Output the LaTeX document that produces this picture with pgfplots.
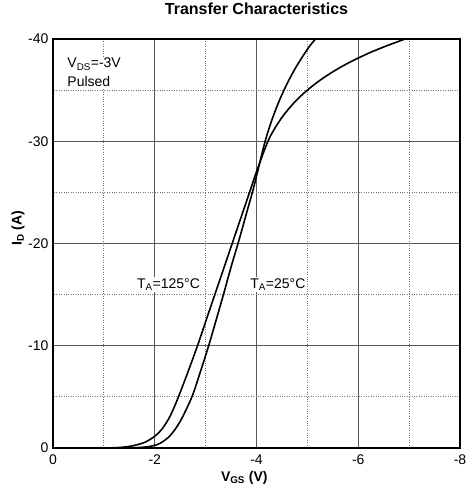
\documentclass[border=0pt]{standalone}
\usepackage{fontspec}
\setmainfont{Liberation Sans}
\usepackage{pgfplots}
\pgfplotsset{compat=1.18}

\begin{document}
\begin{tikzpicture}
\begin{axis}[
    name=ax,
    scale only axis,
    width=407pt, height=409pt,
    xmin=-8, xmax=0, ymin=-40, ymax=0,
    x dir=reverse, y dir=reverse,
    xtick={0,-2,-4,-6,-8},
    xticklabels={0,{-2},{-4},{-6},{-8}},
    ytick={0,-10,-20,-30,-40},
    yticklabels={0,{-10},{-20},{-30},{-40}},
    minor x tick num=1, minor y tick num=1,
    major tick length=0pt, minor tick length=0pt,
    grid=both,
    major grid style={black!65, line width=0.8pt},
    minor grid style={black!55, dotted, line width=0.8pt},
    axis line style={black, line width=1.2pt},
    tick label style={font=\fontsize{14}{16}\selectfont},
    xticklabel style={yshift=-3pt},
    yticklabel style={xshift=-1pt},
    title={Transfer Characteristics},
    title style={at={(axis description cs:0.5,1.059)}, anchor=center,
        font=\fontsize{16}{18}\selectfont\bfseries},
    xlabel={V\textsubscript{GS} (V)},
    xlabel style={at={(axis description cs:0.47,-0.073)}, anchor=center,
        font=\fontsize{14}{16}\selectfont\bfseries},
    ylabel={I\textsubscript{D} (A)},
    ylabel style={at={(axis description cs:-0.086,0.538)}, anchor=center,
        font=\fontsize{14}{16}\selectfont\bfseries},
    clip=false,
]
% T_A = 125 C
\addplot[black, line width=1.6pt, smooth] coordinates {
    (-1.0,0) (-1.3,-0.05) (-1.55,-0.2) (-1.8,-0.55) (-2.0,-1.15)
    (-2.15,-1.9) (-2.3,-3.1) (-2.45,-4.8) (-2.65,-7.4) (-2.84,-10)
    (-3.0,-12.35) (-3.15,-14.55) (-3.34,-17.33) (-3.52,-19.97)
    (-3.69,-22.46) (-3.86,-24.95) (-4.02,-27.3) (-4.25,-30.27)
    (-4.5,-32.33) (-4.75,-33.83) (-5.0,-35.0) (-5.25,-35.97)
    (-5.5,-36.79) (-5.75,-37.51) (-6.0,-38.14) (-6.25,-38.71)
    (-6.5,-39.22) (-6.75,-39.69) (-6.92,-40)
};
% T_A = 25 C
\addplot[black, line width=1.6pt, smooth] coordinates {
    (-1.0,0) (-1.6,-0.03) (-1.9,-0.15) (-2.1,-0.45) (-2.3,-1.2)
    (-2.5,-2.6) (-2.73,-5) (-2.9,-7.5) (-3.06,-10) (-3.2,-12.4)
    (-3.35,-15) (-3.5,-17.7) (-3.66,-20.4) (-3.8,-22.9) (-3.93,-25.2)
    (-4.03,-27.2) (-4.17,-30.0) (-4.3,-32.05) (-4.45,-33.99)
    (-4.6,-35.62) (-4.75,-37.02) (-4.9,-38.24) (-5.05,-39.34)
    (-5.16,-40)
};
\node[fill=white, inner sep=1.5pt, font=\fontsize{14}{16}\selectfont]
    at (axis cs:-2.27,-16) {T\textsubscript{A}=125°C};
\node[fill=white, inner sep=1.5pt, font=\fontsize{14}{16}\selectfont]
    at (axis cs:-4.42,-16) {T\textsubscript{A}=25°C};
\node[fill=white, inner sep=1.5pt, anchor=north west, align=left,
    font=\fontsize{14}{19}\selectfont]
    at (axis cs:-0.25,-38.3) {V\textsubscript{DS}=-3V\\Pulsed};
\end{axis}
\pgfresetboundingbox
\path[use as bounding box] ([shift={(-53pt,-46pt)}]ax.south west)
    rectangle ([shift={(7pt,39pt)}]ax.north east);
\end{tikzpicture}
\end{document}
